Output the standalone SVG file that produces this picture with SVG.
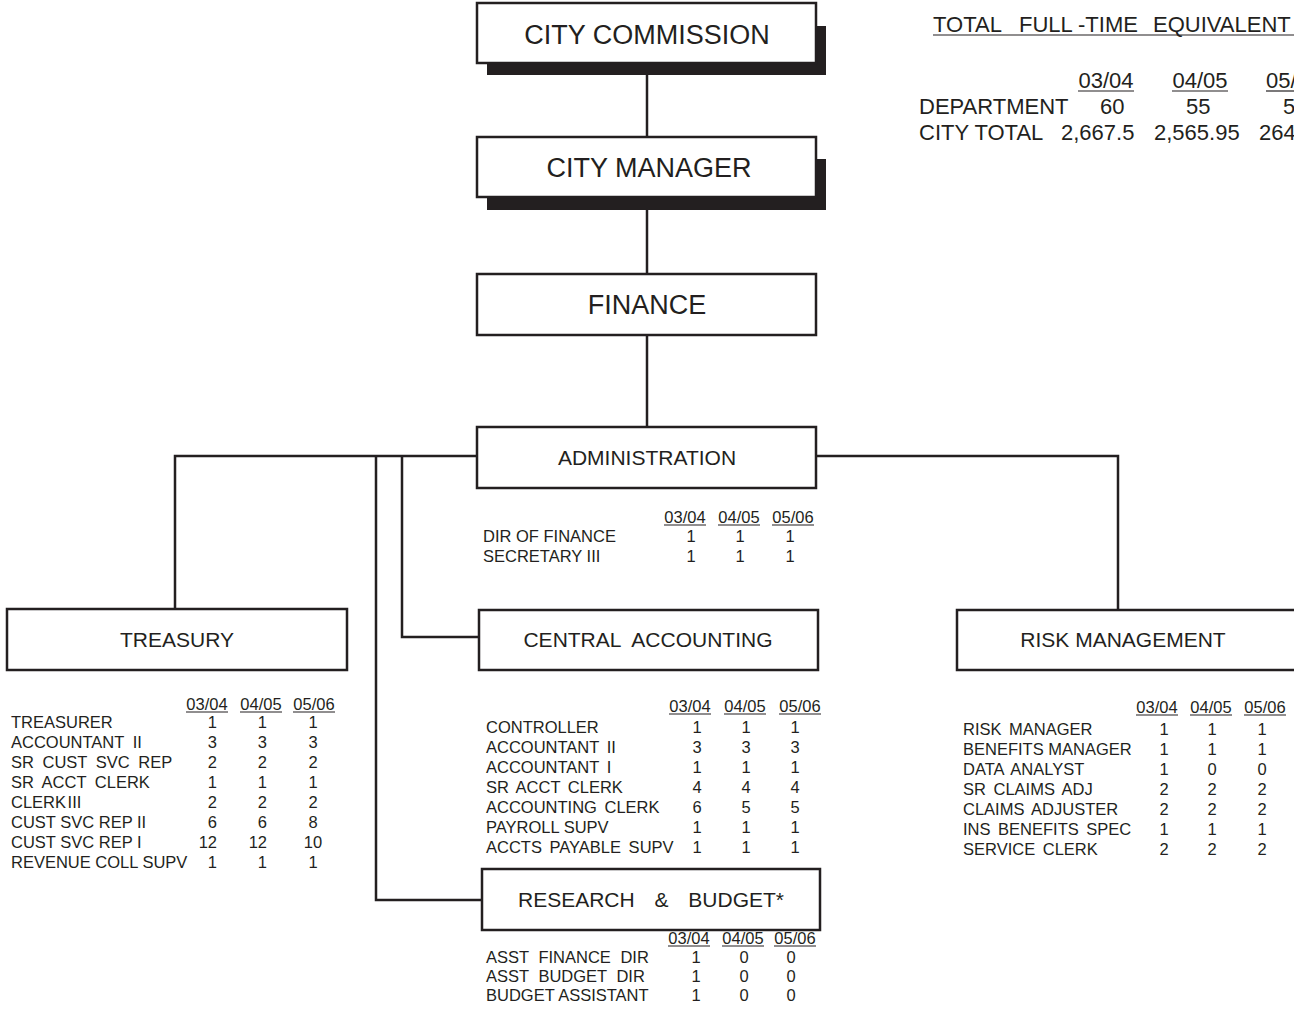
<svg xmlns="http://www.w3.org/2000/svg" width="1294" height="1035" viewBox="0 0 1294 1035">
<style>
text{font-family:"Liberation Sans",Arial,sans-serif;fill:#231f20}
.box{fill:#fff;stroke:#231f20;stroke-width:2.5}
.shadow{fill:#231f20}
.big{font-size:27px;text-anchor:middle}
.mid{font-size:21px;text-anchor:middle}
.t{font-size:16.5px}
.c{font-size:16.5px;text-anchor:middle}
.e{font-size:16.5px;text-anchor:end}
.fte{font-size:22px}
.ul{stroke:#231f20;stroke-width:1.2}
.con{stroke:#231f20;stroke-width:2.5;fill:none}
</style>

<g id="connectors">
<line class="con" x1="647" y1="63" x2="647" y2="137"/>
<line class="con" x1="647" y1="197" x2="647" y2="274"/>
<line class="con" x1="647" y1="335" x2="647" y2="427"/>
<polyline class="con" points="175,609 175,456 477,456"/>
<polyline class="con" points="816,456 1118,456 1118,610"/>
<polyline class="con" points="376,456 376,900 482,900"/>
<polyline class="con" points="402,456 402,637 479,637"/>
</g>

<g id="city-commission">
<rect class="shadow" x="487" y="26" width="339" height="49"/>
<rect class="box" x="477" y="3" width="339" height="60"/>
<text class="big" x="647" y="44">CITY COMMISSION</text>
</g>

<g id="city-manager">
<rect class="shadow" x="487" y="159" width="339" height="51"/>
<rect class="box" x="477" y="137" width="339" height="60"/>
<text class="big" x="649" y="177">CITY MANAGER</text>
</g>

<g id="finance">
<rect class="box" x="477" y="274" width="339" height="61"/>
<text class="big" x="647" y="314">FINANCE</text>
</g>

<g id="administration">
<rect class="box" x="477" y="427" width="339" height="61"/>
<text class="mid" x="647" y="465">ADMINISTRATION</text>
<g>
<text class="c" x="685" y="523">03/04</text><text class="c" x="739" y="523">04/05</text><text class="c" x="793" y="523">05/06</text>
<line class="ul" x1="664" y1="525" x2="706" y2="525"/><line class="ul" x1="718" y1="525" x2="760" y2="525"/><line class="ul" x1="772" y1="525" x2="814" y2="525"/>
<text class="t" x="483" y="542">DIR OF FINANCE</text><text class="c" x="691" y="542">1</text><text class="c" x="740" y="542">1</text><text class="c" x="790" y="542">1</text>
<text class="t" x="483" y="562">SECRETARY III</text><text class="c" x="691" y="562">1</text><text class="c" x="740" y="562">1</text><text class="c" x="790" y="562">1</text>
</g>
</g>

<g id="treasury">
<rect class="box" x="7" y="609" width="340" height="61"/>
<text class="mid" x="177" y="647">TREASURY</text>
<g word-spacing="4">
<text class="c" x="207" y="710">03/04</text><text class="c" x="261" y="710">04/05</text><text class="c" x="314" y="710">05/06</text>
<line class="ul" x1="186" y1="712" x2="228" y2="712"/><line class="ul" x1="240" y1="712" x2="282" y2="712"/><line class="ul" x1="293" y1="712" x2="335" y2="712"/>
<text class="t" x="11" y="728">TREASURER</text><text class="e" x="217" y="728">1</text><text class="e" x="267" y="728">1</text><text class="c" x="313" y="728">1</text>
<text class="t" x="11" y="748">ACCOUNTANT II</text><text class="e" x="217" y="748">3</text><text class="e" x="267" y="748">3</text><text class="c" x="313" y="748">3</text>
<text class="t" x="11" y="768">SR CUST SVC REP</text><text class="e" x="217" y="768">2</text><text class="e" x="267" y="768">2</text><text class="c" x="313" y="768">2</text>
<text class="t" x="11" y="788">SR ACCT CLERK</text><text class="e" x="217" y="788">1</text><text class="e" x="267" y="788">1</text><text class="c" x="313" y="788">1</text>
<text class="t" x="11" y="808" word-spacing="-3">CLERK III</text><text class="e" x="217" y="808">2</text><text class="e" x="267" y="808">2</text><text class="c" x="313" y="808">2</text>
<text class="t" x="11" y="828" word-spacing="0">CUST SVC REP II</text><text class="e" x="217" y="828">6</text><text class="e" x="267" y="828">6</text><text class="c" x="313" y="828">8</text>
<text class="t" x="11" y="848" word-spacing="0">CUST SVC REP I</text><text class="e" x="217" y="848">12</text><text class="e" x="267" y="848">12</text><text class="c" x="313" y="848">10</text>
<text class="t" x="11" y="868" word-spacing="0">REVENUE COLL SUPV</text><text class="e" x="217" y="868">1</text><text class="e" x="267" y="868">1</text><text class="c" x="313" y="868">1</text>
</g>
</g>

<g id="central-accounting">
<rect class="box" x="479" y="610" width="339" height="60"/>
<text class="mid" x="648" y="647" word-spacing="6">CENTRAL ACCOUNTING</text>
<g word-spacing="3">
<text class="c" x="690" y="712">03/04</text><text class="c" x="745" y="712">04/05</text><text class="c" x="800" y="712">05/06</text>
<line class="ul" x1="669" y1="714" x2="711" y2="714"/><line class="ul" x1="724" y1="714" x2="766" y2="714"/><line class="ul" x1="779" y1="714" x2="821" y2="714"/>
<text class="t" x="486" y="733">CONTROLLER</text><text class="c" x="697" y="733">1</text><text class="c" x="746" y="733">1</text><text class="c" x="795" y="733">1</text>
<text class="t" x="486" y="753">ACCOUNTANT II</text><text class="c" x="697" y="753">3</text><text class="c" x="746" y="753">3</text><text class="c" x="795" y="753">3</text>
<text class="t" x="486" y="773">ACCOUNTANT I</text><text class="c" x="697" y="773">1</text><text class="c" x="746" y="773">1</text><text class="c" x="795" y="773">1</text>
<text class="t" x="486" y="793">SR ACCT CLERK</text><text class="c" x="697" y="793">4</text><text class="c" x="746" y="793">4</text><text class="c" x="795" y="793">4</text>
<text class="t" x="486" y="813">ACCOUNTING CLERK</text><text class="c" x="697" y="813">6</text><text class="c" x="746" y="813">5</text><text class="c" x="795" y="813">5</text>
<text class="t" x="486" y="833" word-spacing="0">PAYROLL SUPV</text><text class="c" x="697" y="833">1</text><text class="c" x="746" y="833">1</text><text class="c" x="795" y="833">1</text>
<text class="t" x="486" y="853">ACCTS PAYABLE SUPV</text><text class="c" x="697" y="853">1</text><text class="c" x="746" y="853">1</text><text class="c" x="795" y="853">1</text>
</g>
</g>

<g id="research-budget">
<rect class="box" x="482" y="869" width="338" height="61"/>
<text class="mid" x="651" y="907" word-spacing="14">RESEARCH &amp; BUDGET*</text>
<g word-spacing="5">
<text class="c" x="689" y="944">03/04</text><text class="c" x="743" y="944">04/05</text><text class="c" x="795" y="944">05/06</text>
<line class="ul" x1="668" y1="946" x2="710" y2="946"/><line class="ul" x1="722" y1="946" x2="764" y2="946"/><line class="ul" x1="774" y1="946" x2="816" y2="946"/>
<text class="t" x="486" y="963">ASST FINANCE DIR</text><text class="c" x="696" y="963">1</text><text class="c" x="744" y="963">0</text><text class="c" x="791" y="963">0</text>
<text class="t" x="486" y="982">ASST BUDGET DIR</text><text class="c" x="696" y="982">1</text><text class="c" x="744" y="982">0</text><text class="c" x="791" y="982">0</text>
<text class="t" x="486" y="1001" word-spacing="0">BUDGET ASSISTANT</text><text class="c" x="696" y="1001">1</text><text class="c" x="744" y="1001">0</text><text class="c" x="791" y="1001">0</text>
</g>
</g>

<g id="risk-management">
<rect class="box" x="957" y="610" width="345" height="60"/>
<text class="mid" x="1123" y="647">RISK MANAGEMENT</text>
<g word-spacing="3">
<text class="c" x="1157" y="713">03/04</text><text class="c" x="1211" y="713">04/05</text><text class="c" x="1265" y="713">05/06</text>
<line class="ul" x1="1136" y1="715" x2="1178" y2="715"/><line class="ul" x1="1190" y1="715" x2="1232" y2="715"/><line class="ul" x1="1244" y1="715" x2="1286" y2="715"/>
<text class="t" x="963" y="735">RISK MANAGER</text><text class="c" x="1164" y="735">1</text><text class="c" x="1212" y="735">1</text><text class="c" x="1262" y="735">1</text>
<text class="t" x="963" y="755" word-spacing="0">BENEFITS MANAGER</text><text class="c" x="1164" y="755">1</text><text class="c" x="1212" y="755">1</text><text class="c" x="1262" y="755">1</text>
<text class="t" x="963" y="775">DATA ANALYST</text><text class="c" x="1164" y="775">1</text><text class="c" x="1212" y="775">0</text><text class="c" x="1262" y="775">0</text>
<text class="t" x="963" y="795">SR CLAIMS ADJ</text><text class="c" x="1164" y="795">2</text><text class="c" x="1212" y="795">2</text><text class="c" x="1262" y="795">2</text>
<text class="t" x="963" y="815">CLAIMS ADJUSTER</text><text class="c" x="1164" y="815">2</text><text class="c" x="1212" y="815">2</text><text class="c" x="1262" y="815">2</text>
<text class="t" x="963" y="835">INS BENEFITS SPEC</text><text class="c" x="1164" y="835">1</text><text class="c" x="1212" y="835">1</text><text class="c" x="1262" y="835">1</text>
<text class="t" x="963" y="855">SERVICE CLERK</text><text class="c" x="1164" y="855">2</text><text class="c" x="1212" y="855">2</text><text class="c" x="1262" y="855">2</text>
</g>
</g>

<g id="fte-summary">
<text class="fte" y="32"><tspan x="933">TOTAL </tspan><tspan x="1019">FULL </tspan><tspan x="1078">-TIME </tspan><tspan x="1153">EQUIVALENT</tspan></text>
<line class="ul" x1="933" y1="35" x2="1294" y2="35" stroke-width="1.5"/>
<text class="fte" x="1106" y="88" text-anchor="middle">03/04</text>
<text class="fte" x="1200" y="88" text-anchor="middle">04/05</text>
<text class="fte" x="1266" y="88">05/</text>
<line class="ul" x1="1078" y1="91" x2="1134" y2="91" stroke-width="1.5"/>
<line class="ul" x1="1172" y1="91" x2="1228" y2="91" stroke-width="1.5"/>
<line class="ul" x1="1266" y1="91" x2="1294" y2="91" stroke-width="1.5"/>
<text class="fte" x="919" y="114">DEPARTMENT</text>
<text class="fte" x="1100" y="114">60</text>
<text class="fte" x="1186" y="114">55</text>
<text class="fte" x="1283" y="114">5</text>
<text class="fte" x="919" y="140">CITY TOTAL</text>
<text class="fte" x="1061" y="140">2,667.5</text>
<text class="fte" x="1154" y="140">2,565.95</text>
<text class="fte" x="1259" y="140">264</text>
</g>
</svg>
